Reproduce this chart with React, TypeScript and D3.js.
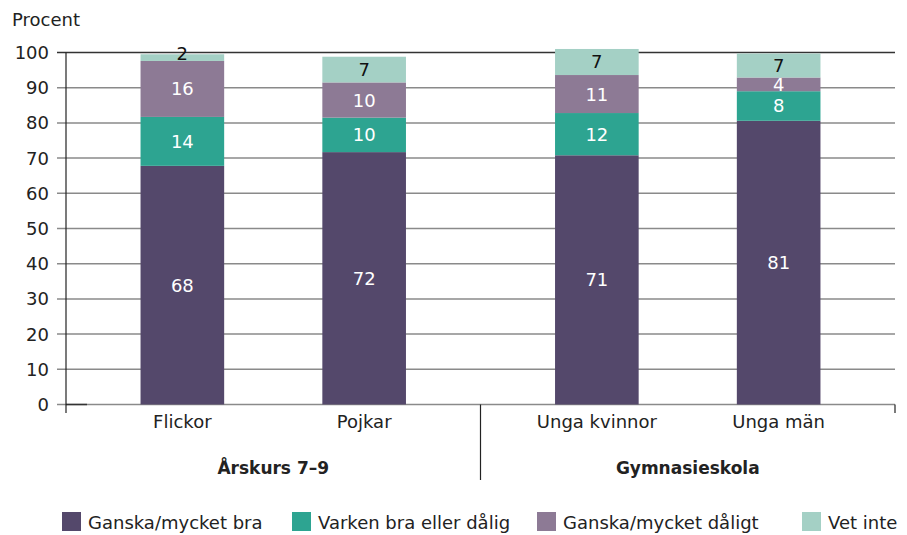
import React from 'react';
import * as d3 from 'd3';

// kategorier och grupper
const groups = ['Årskurs 7–9', 'Gymnasieskola'];
const categories = [
  { name: 'Flickor', group: 'Årskurs 7–9' },
  { name: 'Pojkar', group: 'Årskurs 7–9' },
  { name: 'Unga kvinnor', group: 'Gymnasieskola' },
  { name: 'Unga män', group: 'Gymnasieskola' },
];

const seriesNames = ['Ganska/mycket bra', 'Varken bra eller dålig', 'Ganska/mycket dåligt', 'Vet inte'];
const seriesColors = ['#54486b', '#2da491', '#8d7a95', '#a4d0c5'];
const labelColors = ['#fff', '#fff', '#fff', '#111'];

// procent per kategori, i samma ordning som seriesNames
const bra = [67.8, 71.7, 70.8, 80.6];
const varken = [13.9, 9.8, 12.0, 8.4];
const daligt = [15.9, 10.0, 10.8, 3.9];
const vetInte = [1.9, 7.3, 7.4, 6.8];

const yTicks = [0, 10, 20, 30, 40, 50, 60, 70, 80, 90, 100];

const W = 907, H = 535;
const font = '"DejaVu Sans", sans-serif';

export default function App() {
  const left = 66, right = 895, top = 52.5, bottom = 404.5;

  const y = d3.scaleLinear().domain([0, 100]).range([bottom, top]);
  const outer = d3.scaleBand<string>().domain(groups).range([left, right]).padding(0);
  const inner = d3.scaleBand<number>().domain([0, 1]).range([0, outer.bandwidth()])
    .paddingInner(0.54).paddingOuter(0.41);

  const table = categories.map((c, i) => ({
    name: c.name, group: c.group,
    s0: bra[i], s1: varken[i], s2: daligt[i], s3: vetInte[i],
  }));
  const stacked = d3.stack<any>().keys(['s0', 's1', 's2', 's3'])(table);

  const xPos = (i: number) => {
    const c = categories[i];
    const idx = categories.filter(d => d.group === c.group).indexOf(c);
    return (outer(c.group) as number) + (inner(idx) as number);
  };

  const legendX = [62, 292, 537, 802];

  return (
    <svg width={W} height={H} style={{ position: 'absolute', left: 0, top: 0, fontFamily: font }}>
      <rect width={W} height={H} fill="#fff" />
      <text x={12} y={26} fontSize={18} fill="#222">Procent</text>

      {yTicks.map(t => (
        <g key={t}>
          <line x1={57} x2={right} y1={y(t)} y2={y(t)}
            stroke={t === 100 ? '#333' : '#8a8a8a'} strokeWidth={1.5} />
          <text x={49} y={y(t)} dy="0.36em" textAnchor="end" fontSize={18} fill="#222">{t}</text>
        </g>
      ))}
      <line x1={left} x2={87} y1={y(0)} y2={y(0)} stroke="#333" strokeWidth={1.5} />

      {stacked.map((layer, si) => (
        <g key={si}>
          {layer.map((d, i) => {
            const x0 = xPos(i);
            const y0 = y(d[1]);
            const h = y(d[0]) - y(d[1]);
            const v = d[1] - d[0];
            const cy = h < 10 ? y0 - 1 : y0 + h / 2;
            return (
              <g key={i}>
                <rect x={x0} y={y0} width={inner.bandwidth()} height={h} fill={seriesColors[si]} />
                <text x={x0 + inner.bandwidth() / 2} y={cy} dy="0.36em" textAnchor="middle"
                  fontSize={18} fill={labelColors[si]}>{Math.round(v)}</text>
              </g>
            );
          })}
        </g>
      ))}

      <line x1={left} x2={left} y1={top} y2={413} stroke="#222" strokeWidth={1.2} />
      <line x1={right} x2={right} y1={y(0)} y2={413} stroke="#222" strokeWidth={1.2} />
      <line x1={outer(groups[1])} x2={outer(groups[1])} y1={y(0)} y2={480} stroke="#222" strokeWidth={1.2} />

      {categories.map((c, i) => (
        <text key={c.name} x={xPos(i) + inner.bandwidth() / 2} y={428} textAnchor="middle"
          fontSize={18} fill="#222">{c.name}</text>
      ))}
      {groups.map(g => (
        <text key={g} x={(outer(g) as number) + outer.bandwidth() / 2} y={474} textAnchor="middle"
          fontSize={17} fontWeight="bold" fill="#222">{g}</text>
      ))}

      {seriesNames.map((s, i) => (
        <g key={s} transform={`translate(${legendX[i]},512)`}>
          <rect width={19} height={19} fill={seriesColors[i]} />
          <text x={26} y={17} fontSize={18} fill="#222">{s}</text>
        </g>
      ))}
    </svg>
  );
}
